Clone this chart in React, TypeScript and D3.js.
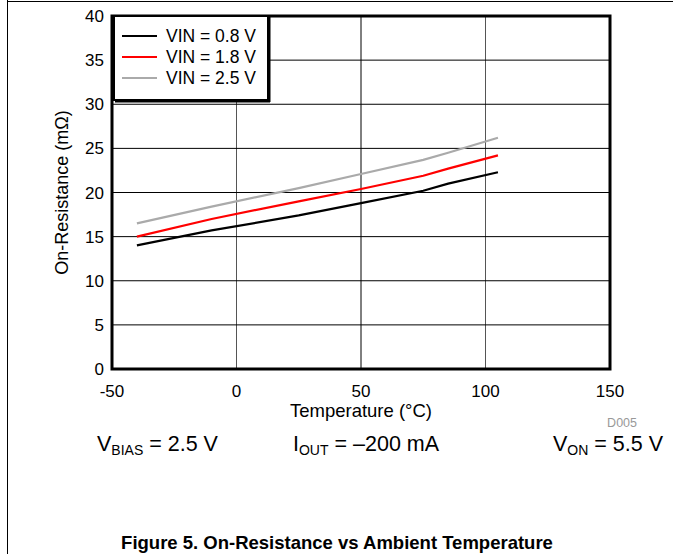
import * as d3 from "d3";
import React from "react";

const temps = [-40, -10, 25, 50, 75, 85, 105];
const vin08 = [14.0, 15.7, 17.4, 18.8, 20.2, 21.0, 22.3];
const vin18 = [15.0, 17.0, 19.0, 20.4, 21.9, 22.7, 24.2];
const vin25 = [16.5, 18.4, 20.5, 22.1, 23.7, 24.5, 26.2];

const seriesNames = ["VIN = 0.8 V", "VIN = 1.8 V", "VIN = 2.5 V"];
const seriesColors = ["#000000", "#ff0000", "#aaaaaa"];
const xTicks = [-50, 0, 50, 100, 150];
const yTicks = [0, 5, 10, 15, 20, 25, 30, 35, 40];

const W = 673;
const H = 554;
const font = "Arial, 'Liberation Sans', sans-serif";

export function App() {
  const x = d3.scaleLinear().domain([-50, 150]).range([112, 610]);
  const y = d3.scaleLinear().domain([0, 40]).range([369, 16]);

  const line = d3
    .line<number>()
    .x((d, i) => x(temps[i]))
    .y((d) => y(d));

  const allSeries = [vin08, vin18, vin25];

  return (
    <svg
      width={W}
      height={H}
      style={{ position: "fixed", left: 0, top: 0, background: "#fff" }}
      fontFamily={font}
    >
      {/* page frame */}
      <line x1={7.5} y1={0} x2={7.5} y2={H} stroke="#000" strokeWidth={1} />
      <line x1={7} y1={1.5} x2={W} y2={1.5} stroke="#000" strokeWidth={1} />

      {/* grid */}
      {xTicks.slice(1, -1).map((t) => (
        <line key={"gx" + t} x1={x(t)} x2={x(t)} y1={y(40)} y2={y(0)}
          stroke={t === 50 ? "#000" : "#555"} strokeWidth={1} />
      ))}
      {yTicks.slice(1, -1).map((t) => (
        <line key={"gy" + t} x1={x(-50)} x2={x(150)} y1={y(t)} y2={y(t)}
          stroke="#000" strokeWidth={1} />
      ))}

      {/* series */}
      {allSeries.map((s, i) => (
        <path key={i} d={line(s) || ""} fill="none" stroke={seriesColors[i]} strokeWidth={2.2} />
      ))}

      {/* plot border */}
      <rect x={x(-50)} y={y(40)} width={x(150) - x(-50)} height={y(0) - y(40)}
        fill="none" stroke="#000" strokeWidth={3} />

      {/* y tick labels */}
      {yTicks.map((t) => (
        <text key={"yl" + t} x={104} y={y(t) + 6} textAnchor="end" fontSize={17}>{t}</text>
      ))}
      {/* x tick labels */}
      {xTicks.map((t) => (
        <text key={"xl" + t} x={x(t)} y={397} textAnchor="middle" fontSize={17}>{t}</text>
      ))}

      <text x={x(50)} y={417} textAnchor="middle" fontSize={18.5}>Temperature (°C)</text>
      <text transform={`translate(68, ${(y(0) + y(40)) / 2}) rotate(-90)`} textAnchor="middle" fontSize={18}>
        On-Resistance (mΩ)
      </text>
      <text x={637} y={427} textAnchor="end" fontSize={12.5} fill="#999">D005</text>

      {/* legend */}
      <rect x={114} y={16} width={154} height={84} fill="#fff" stroke="#000" strokeWidth={2} />
      <line x1={269.5} y1={17} x2={269.5} y2={102} stroke="#000" strokeWidth={2} />
      <line x1={115} y1={101.5} x2={270} y2={101.5} stroke="#000" strokeWidth={2} />
      {seriesNames.map((n, i) => {
        const ly = 36 + i * 21;
        return (
          <g key={n}>
            <line x1={122} x2={157} y1={ly} y2={ly} stroke={seriesColors[i]} strokeWidth={2.2} />
            <text x={166} y={ly + 6} fontSize={17.5}>{n}</text>
          </g>
        );
      })}

      {/* conditions */}
      <text x={97} y={451} fontSize={21.5}>
        V<tspan fontSize={14} dy={4}>BIAS</tspan><tspan dy={-4}> = 2.5 V</tspan>
      </text>
      <text x={293} y={451} fontSize={21.5}>
        I<tspan fontSize={14} dy={4}>OUT</tspan><tspan dy={-4}> = –200 mA</tspan>
      </text>
      <text x={663} y={451} fontSize={21.5} textAnchor="end">
        V<tspan fontSize={14} dy={4}>ON</tspan><tspan dy={-4}> = 5.5 V</tspan>
      </text>

      <text x={337} y={549} textAnchor="middle" fontSize={18.5} fontWeight="bold">
        Figure 5. On-Resistance vs Ambient Temperature
      </text>
    </svg>
  );
}

export default App;
